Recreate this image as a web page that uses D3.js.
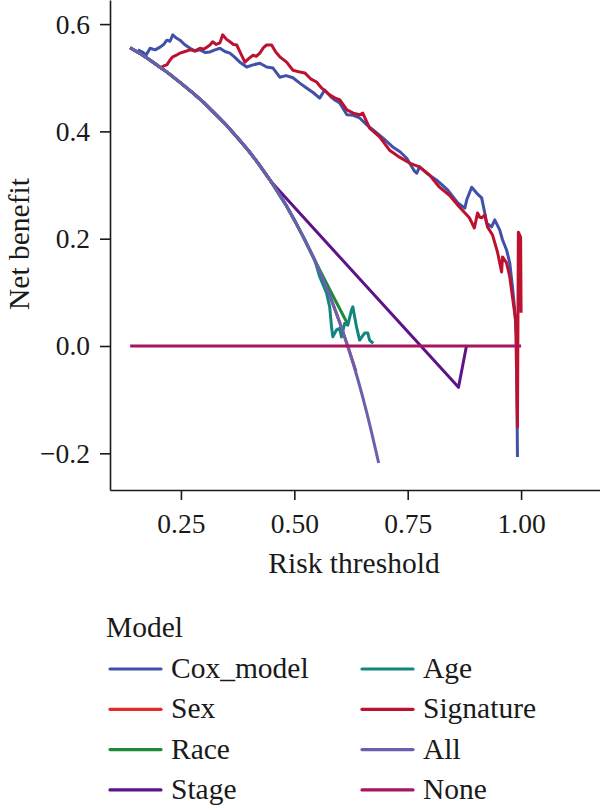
<!DOCTYPE html>
<html><head><meta charset="utf-8">
<script src="https://cdn.jsdelivr.net/npm/d3@7"></script>
<style>body{margin:0;background:#fff}text{font-family:"Liberation Serif","DejaVu Serif",serif;fill:#1a1a1a}</style>
</head><body>
<svg id="chart" width="600" height="809"></svg>
<script>
// ---- data ----
const xTicks = [0.25, 0.50, 0.75, 1.00];
const yTicks = [-0.2, 0.0, 0.2, 0.4, 0.6];
const models = ["Cox_model", "Sex", "Race", "Stage", "Age", "Signature", "All", "None"];
const colors = ["#3F51A8", "#E52B25", "#1B8B3B", "#5C1487", "#12867E", "#BC1230", "#6B60B0", "#A8155F"];

// "All" (treat-all) curve
const allT = [0.138, 0.16, 0.18, 0.20, 0.22, 0.25, 0.28, 0.30, 0.33, 0.35, 0.38, 0.40, 0.42, 0.45, 0.48, 0.50, 0.52, 0.545, 0.56, 0.58, 0.60, 0.62, 0.64, 0.66, 0.686];
const allV = [0.556, 0.545, 0.534, 0.522, 0.510, 0.490, 0.469, 0.454, 0.429, 0.412, 0.383, 0.363, 0.341, 0.305, 0.265, 0.235, 0.203, 0.160, 0.131, 0.090, 0.044, -0.006, -0.062, -0.125, -0.218];

// Cox_model
const coxT = [0.155, 0.165, 0.173, 0.182, 0.193, 0.204, 0.212, 0.219, 0.226, 0.232, 0.240, 0.248, 0.258, 0.270, 0.281, 0.292, 0.303, 0.314, 0.325, 0.336, 0.347, 0.358, 0.369, 0.380, 0.395, 0.409, 0.424, 0.439, 0.453, 0.468, 0.482, 0.497, 0.512, 0.527, 0.542, 0.556, 0.567, 0.580, 0.590, 0.600, 0.616, 0.630, 0.644, 0.660, 0.673, 0.695, 0.717, 0.733, 0.748, 0.759, 0.765, 0.770, 0.776, 0.795, 0.814, 0.838, 0.860, 0.876, 0.880, 0.891, 0.902, 0.913, 0.920, 0.924, 0.935, 0.942, 0.953, 0.959, 0.968, 0.975, 0.981, 0.986, 0.990, 0.991, 0.992];
const coxV = [0.552, 0.548, 0.542, 0.555, 0.552, 0.557, 0.562, 0.570, 0.568, 0.580, 0.574, 0.570, 0.562, 0.555, 0.550, 0.552, 0.547, 0.548, 0.552, 0.555, 0.549, 0.546, 0.538, 0.529, 0.520, 0.524, 0.527, 0.520, 0.518, 0.501, 0.504, 0.500, 0.490, 0.481, 0.472, 0.462, 0.477, 0.465, 0.458, 0.453, 0.431, 0.430, 0.425, 0.412, 0.403, 0.388, 0.371, 0.362, 0.350, 0.334, 0.326, 0.322, 0.334, 0.320, 0.309, 0.291, 0.267, 0.257, 0.272, 0.296, 0.285, 0.276, 0.248, 0.229, 0.222, 0.235, 0.216, 0.198, 0.179, 0.155, 0.110, 0.067, 0.017, -0.106, -0.207];

// Signature
const sigT = [0.204, 0.212, 0.219, 0.226, 0.232, 0.240, 0.248, 0.259, 0.270, 0.281, 0.292, 0.300, 0.307, 0.314, 0.320, 0.328, 0.336, 0.342, 0.350, 0.358, 0.366, 0.373, 0.382, 0.391, 0.400, 0.409, 0.416, 0.424, 0.432, 0.439, 0.450, 0.459, 0.468, 0.483, 0.497, 0.510, 0.523, 0.536, 0.549, 0.560, 0.578, 0.590, 0.600, 0.616, 0.630, 0.644, 0.651, 0.666, 0.688, 0.710, 0.732, 0.754, 0.776, 0.798, 0.820, 0.842, 0.864, 0.886, 0.897, 0.904, 0.909, 0.913, 0.920, 0.926, 0.937, 0.948, 0.957, 0.959, 0.968, 0.975, 0.981, 0.988, 0.990, 0.992, 0.994, 0.999, 1.000];
const sigV = [0.518, 0.522, 0.524, 0.533, 0.539, 0.542, 0.546, 0.549, 0.552, 0.550, 0.555, 0.553, 0.557, 0.561, 0.567, 0.562, 0.565, 0.580, 0.572, 0.567, 0.562, 0.561, 0.545, 0.529, 0.536, 0.542, 0.540, 0.546, 0.556, 0.561, 0.561, 0.548, 0.539, 0.529, 0.514, 0.511, 0.509, 0.498, 0.492, 0.481, 0.468, 0.462, 0.459, 0.440, 0.434, 0.431, 0.434, 0.406, 0.390, 0.365, 0.352, 0.341, 0.334, 0.319, 0.296, 0.281, 0.259, 0.239, 0.220, 0.248, 0.240, 0.239, 0.244, 0.222, 0.207, 0.175, 0.138, 0.166, 0.155, 0.129, 0.091, 0.048, -0.045, -0.151, 0.212, 0.203, 0.062];

// Tails of the curves that run on the "All" curve before they separate
const sexSplit = 0.62;
const sexTailT = [0.636];
const sexTailV = [-0.047];
const raceSplit = 0.545;
const raceTailT = [0.580, 0.617];
const raceTailV = [0.102, 0.042];
const stageSplit = 0.45;
const stageTailT = [0.862, 0.880];
const stageTailV = [-0.077, 0.002];
const ageSplit = 0.545;
const ageTailT = [0.556, 0.571, 0.578, 0.582, 0.585, 0.593, 0.600, 0.604, 0.611, 0.618, 0.626, 0.629, 0.637, 0.644, 0.655, 0.662, 0.666, 0.674];
const ageTailV = [0.129, 0.099, 0.073, 0.036, 0.017, 0.030, 0.033, 0.017, 0.042, 0.039, 0.067, 0.073, 0.036, 0.011, 0.024, 0.024, 0.011, 0.005];

const noneT = [0.138, 1.000];
const noneV = [0.0, 0.0];

// ---- build series ----
const zip = (ts, vs) => ts.map((t, i) => ({t, v: vs[i]}));
const allPts = zip(allT, allV);
const withPrefix = (split, ts, vs) => allPts.filter(p => p.t <= split).concat(zip(ts, vs));
const seriesPts = {
  "Cox_model": zip(coxT, coxV),
  "Sex": withPrefix(sexSplit, sexTailT, sexTailV),
  "Race": withPrefix(raceSplit, raceTailT, raceTailV),
  "Stage": withPrefix(stageSplit, stageTailT, stageTailV),
  "Age": withPrefix(ageSplit, ageTailT, ageTailV),
  "Signature": zip(sigT, sigV),
  "All": allPts,
  "None": zip(noneT, noneV)
};

// ---- drawing ----
const svg = d3.select("#chart");
const x = d3.scaleLinear().domain([0.0936, 1.174]).range([110, 600]);
const y = d3.scaleLinear().domain([-0.2684, 0.6449]).range([490, 0]);

const line = d3.line().x(d => x(d.t)).y(d => y(d.v));
const smooth = d3.line().x(d => x(d.t)).y(d => y(d.v)).curve(d3.curveMonotoneX);

models.forEach((m, i) => {
  svg.append("path")
    .datum(seriesPts[m])
    .attr("fill", "none")
    .attr("stroke", colors[i])
    .attr("stroke-width", 3)
    .attr("stroke-linejoin", "round")
    .attr("d", (m === "All" || m === "None") ? smooth : line);
});

// axes
const gx = svg.append("g").attr("transform", "translate(0,490)")
  .call(d3.axisBottom(x).tickValues(xTicks).tickSize(10).tickSizeOuter(0).tickFormat(d3.format(".2f")));
const gy = svg.append("g").attr("transform", "translate(110,0)")
  .call(d3.axisLeft(y).tickValues(yTicks).tickSize(10).tickSizeOuter(0).tickFormat(d3.format(".1f")));
[gx, gy].forEach(g => {
  g.select(".domain").attr("stroke", "#1a1a1a").attr("stroke-width", 1.6);
  g.selectAll(".tick line").attr("stroke", "#1a1a1a").attr("stroke-width", 1.6);
  g.selectAll("text").attr("font-family", null).style("font-size", "27.5px").attr("fill", "#1a1a1a");
});
gx.selectAll("text").attr("y", 43).attr("dy", null);
gy.selectAll("text").attr("x", -20).attr("dy", 9);

// axis titles
svg.append("text").attr("x", 354).attr("y", 573).attr("text-anchor", "middle")
  .style("font-size", "29.5px").text("Risk threshold");
svg.append("text").attr("transform", "translate(29,244) rotate(-90)").attr("text-anchor", "middle")
  .style("font-size", "29.5px").text("Net benefit");

// legend
svg.append("text").attr("x", 106).attr("y", 637).style("font-size", "29.5px").text("Model");
models.forEach((m, i) => {
  const col = Math.floor(i / 4), row = i % 4;
  const lx = 110 + col * 252, ly = 669 + row * 40.3;
  svg.append("line").attr("x1", lx).attr("x2", lx + 51).attr("y1", ly).attr("y2", ly)
    .attr("stroke", colors[i]).attr("stroke-width", 3.2).attr("stroke-linecap", "round");
  svg.append("text").attr("x", lx + 61).attr("y", ly + 9).style("font-size", "29.5px").text(m);
});
</script>
</body></html>
